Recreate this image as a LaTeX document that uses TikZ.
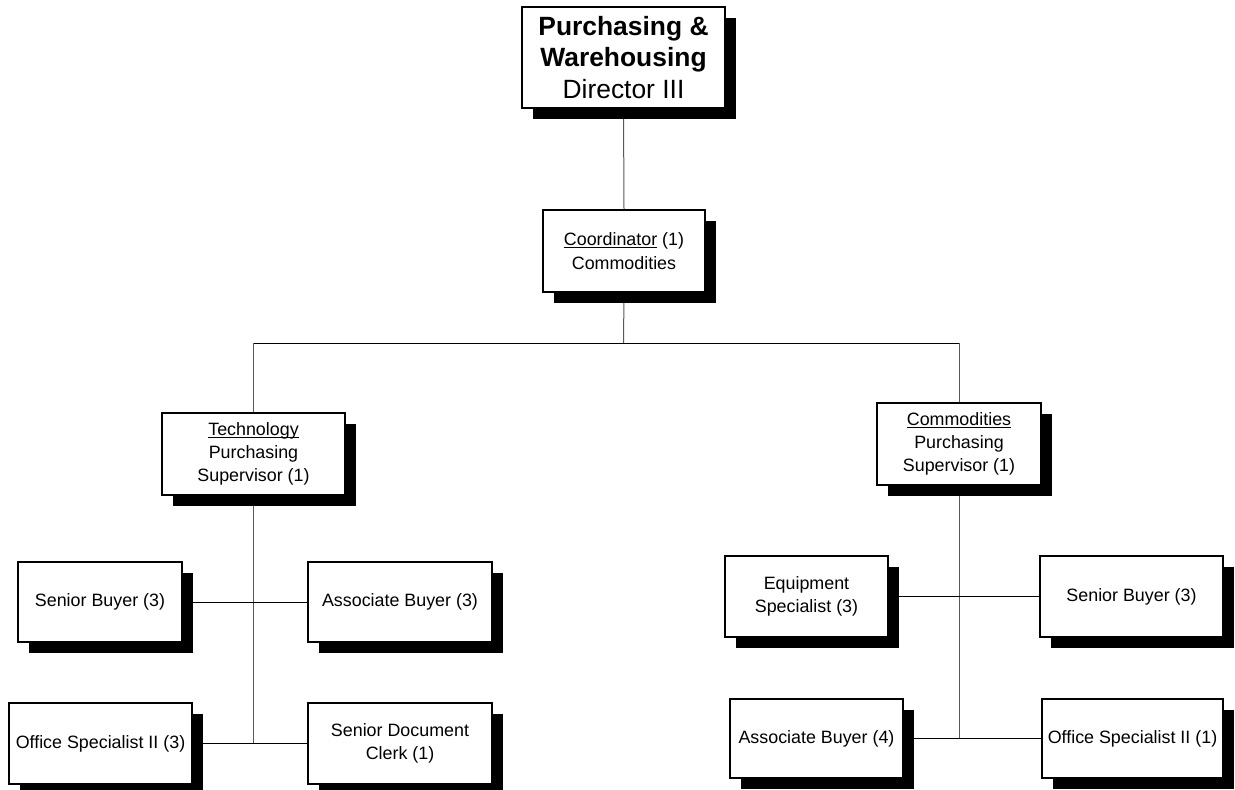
\documentclass[tikz,border=0pt]{standalone}
\usepackage{fontspec}
\setmainfont{Liberation Sans}
\usetikzlibrary{shadows,backgrounds}

% orgbox[style]{name}{left}{top}{right}{bottom}{text}: a boxed position, corners in px
\newcommand\orgbox[7][]{%
  \node[card, #1, minimum width={(#5-#3)*0.75pt}, minimum height={(#6-#4)*0.75pt}]
    (#2) at ({(#3+#5)/2},{(#4+#6)/2}) {#7};%
}

% underline set just below the baseline, crossing the descenders
\newcommand\uword[1]{\setbox0\hbox{#1}\rlap{\rule[-1.9pt]{\wd0}{0.65pt}}#1}

\tikzset{
  card/.style={draw=black, line width=0.9pt, fill=white, inner sep=0pt,
    align=center, font=\fontsize{13.4}{17.5}\selectfont,
    drop shadow={shadow xshift=8.25pt, shadow yshift=-8.25pt,
      fill=black, opacity=1}},
  topcard/.style={font=\fontsize{19.8}{23.4}\selectfont},
  vline/.style={draw=black!65, line width=0.75pt},
  hline/.style={draw=black, line width=0.6pt},
}

\begin{document}
\begin{tikzpicture}[x=0.75pt, y=-0.75pt]
  \useasboundingbox (0,0) rectangle (1235,789);

  % director and coordinator
  \orgbox[topcard]{dir}{522}{7}{725}{108}{\textbf{Purchasing \&}\\\textbf{Warehousing}\\Director III}
  \orgbox{coord}{543}{210}{705}{292}{\uword{Coordinator} (1)\\Commodities}

  % supervisors
  \orgbox{tech}{162}{413}{345}{495}{\uword{Technology}\\Purchasing\\Supervisor (1)}
  \orgbox{comm}{877}{403}{1041}{485}{\uword{Commodities}\\Purchasing\\Supervisor (1)}

  % technology staff
  \orgbox{sbA}{18}{562}{182}{642}{Senior Buyer (3)}
  \orgbox{abA}{308}{562}{492}{642}{Associate Buyer (3)}
  \orgbox{osA}{9}{703}{192}{784}{Office Specialist II (3)}
  \orgbox{sdc}{308}{703}{492}{784}{Senior Document\\Clerk (1)}

  % commodities staff
  \orgbox{eq}{725}{556}{888}{637}{Equipment\\Specialist (3)}
  \orgbox{sbB}{1040}{556}{1223}{637}{Senior Buyer (3)}
  \orgbox{abB}{730}{699}{903}{778}{Associate Buyer (4)}
  \orgbox{osB}{1042}{699}{1223}{778}{Office Specialist II (1)}

  % reporting lines
  \coordinate (bus) at (623.5,343);
  \coordinate (techEnd) at (253.5,743.5);
  \coordinate (commEnd) at (959,738.5);
  \begin{scope}[on background layer]
    \draw[vline] (dir.south) -- (coord.north);
    \draw[vline] (coord.south) -- (bus);
    \draw[hline] (tech.north |- bus) -- (comm.north |- bus);
    \draw[vline] (tech.north |- bus) -- (tech.north);
    \draw[vline] (comm.north |- bus) -- (comm.north);

    \draw[vline] (tech.south) -- (techEnd);
    \draw[hline] (sbA.east) -- (abA.west);
    \draw[hline] (osA.east) -- (sdc.west);

    \draw[vline] (comm.south) -- (commEnd);
    \draw[hline] (eq.east) -- (sbB.west);
    \draw[hline] (abB.east) -- (osB.west);
  \end{scope}
\end{tikzpicture}
\end{document}
